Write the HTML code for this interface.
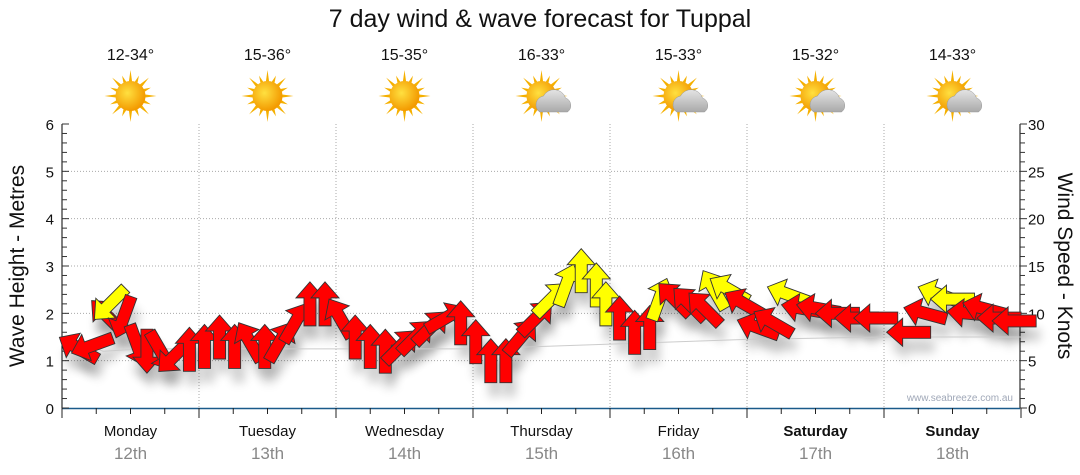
<!DOCTYPE html>
<html><head><meta charset="utf-8"><style>
body{margin:0;background:#fff;font-family:"Liberation Sans",sans-serif}
svg{display:block}
</style></head><body>
<svg id="c" width="1080" height="475" xmlns="http://www.w3.org/2000/svg">
<defs>
<filter id="sh" x="-50%" y="-50%" width="200%" height="200%"><feGaussianBlur stdDeviation="5"/></filter>
<radialGradient id="sun" cx="40%" cy="40%" r="60%"><stop offset="0" stop-color="#ffe040"/><stop offset="1" stop-color="#f39a00"/></radialGradient>
<linearGradient id="cl" x1="0" y1="0" x2="0" y2="1"><stop offset="0" stop-color="#e4e4e4"/><stop offset="1" stop-color="#a9a9a9"/></linearGradient>
</defs>
<text x="540" y="27" font-size="25" text-anchor="middle" fill="#111">7 day wind &amp; wave forecast for Tuppal</text>
<g id="grid"></g><g id="axes"></g><g id="shadows"></g><g id="wave"></g><g id="arrows"></g><g id="icons"></g>
<text x="1013" y="401" font-size="10" text-anchor="end" fill="#a0a8b8">www.seabreeze.com.au</text>
<text transform="translate(24,266) rotate(-90)" font-size="21" text-anchor="middle" fill="#111">Wave Height - Metres</text>
<text transform="translate(1058,266) rotate(90)" font-size="21" text-anchor="middle" fill="#111">Wind Speed - Knots</text>
</svg>
<script>
const days=["Monday","Tuesday","Wednesday","Thursday","Friday","Saturday","Sunday"];
const dates=["12th","13th","14th","15th","16th","17th","18th"];
const temps=["12-34°","15-36°","15-35°","16-33°","15-33°","15-32°","14-33°"];
const cloudy=[0,0,0,1,1,1,1];
const leftTicks=[0,1,2,3,4,5,6];
const rightTicks=[0,5,10,15,20,25,30];
const windT=[0.12,0.22,0.33,0.35,0.45,0.55,0.62,0.72,0.82,0.93,
1.04,1.15,1.26,1.37,1.48,1.59,1.70,1.81,1.92,
2.03,2.14,2.25,2.36,2.47,2.58,2.69,2.80,2.91,
3.02,3.13,3.24,3.35,3.46,3.57,3.68,3.79,3.90,3.97,
4.07,4.18,4.29,4.36,4.47,4.58,4.69,4.76,4.87,4.98,
5.08,5.19,5.30,5.41,5.52,5.66,5.80,5.94,6.18,
6.30,6.40,6.50,6.62,6.73,6.84,6.95];
const windKn=[6.3,6.6,9.7,11.0,9.6,6.6,6.0,6.0,5.5,6.2,
6.5,7.5,6.5,7.0,6.5,7.0,9.0,11.0,11.0,
9.5,7.5,6.5,6.0,6.5,7.5,8.5,9.5,9.0,
7.0,5.0,5.0,7.5,9.5,11.5,13.0,14.5,13.0,11.0,
9.5,8.0,8.5,11.5,11.5,11.0,10.5,12.5,12.5,11.0,
8.5,9.0,12.0,10.5,10.5,10.0,9.5,9.5,8.0,
10.0,12.0,11.5,10.0,10.5,9.5,9.2];
const windDir=[300,250,315,225,200,160,180,150,225,0,
0,0,0,330,0,30,30,0,0,
330,0,0,0,45,45,45,60,0,
0,0,0,40,45,45,20,0,0,0,
0,0,0,20,315,315,315,330,300,300,
290,300,290,280,280,270,270,270,270,
285,290,270,275,285,270,270];
const windY=[0,0,0,1,0,0,0,0,0,0, 0,0,0,0,0,0,0,0,0, 0,0,0,0,0,0,0,0,0,
0,0,0,0,0,1,1,1,1,1, 0,0,0,1,0,0,0,1,1,0, 0,0,1,0,0,0,0,0,0, 0,1,1,0,0,0,0];
const waveT=[0.05,0.3,0.6,1,2,3,4,5,6,7];
const waveM=[1.5,1.2,1.25,1.25,1.25,1.25,1.35,1.45,1.5,1.5];

const NS="http://www.w3.org/2000/svg";
const X0=62,X1=1020,DW=137,Y0=408,Y6=124;
const xT=t=>X0+t*DW;
const yM=m=>Y0-(Y0-Y6)*m/6;
const yK=k=>Y0-(Y0-Y6)*k/30;
function mk(tag,attrs,parent){const e=document.createElementNS(NS,tag);for(const k in attrs)e.setAttribute(k,attrs[k]);parent.appendChild(e);return e;}
const G=id=>document.getElementById(id);
for(let i=1;i<=5;i++){const l=mk('line',{x1:X0,x2:X1,y1:yM(i),y2:yM(i),stroke:'#aaa','stroke-dasharray':'1,2'},G('grid'));

}
for(let d=1;d<7;d++){const l=mk('line',{x1:xT(d),x2:xT(d),y1:Y6,y2:Y0,stroke:'#aaa','stroke-dasharray':'1,2'},G('grid'));

}
const ax=G('axes');
mk('line',{x1:X0,x2:X0,y1:Y6,y2:Y0,stroke:'#000'},ax);
mk('line',{x1:X1,x2:X1,y1:Y6,y2:Y0,stroke:'#000'},ax);
mk('line',{x1:X0,x2:X1,y1:Y0+0.5,y2:Y0+0.5,stroke:'#1a5a8a','stroke-width':1.5},ax);
for(let i=0;i<=30;i++){const y=yM(i/5);
mk('line',{x1:X0,x2:X0+(i%5?5:7),y1:y,y2:y,stroke:'#333'},ax);
mk('line',{x1:X1,x2:X1+(i%5?5:7),y1:y,y2:y,stroke:'#333'},ax);}
leftTicks.forEach(v=>{const t=mk('text',{x:X0-8,y:yM(v)+6,'font-size':15,'text-anchor':'end',fill:'#111'},ax);t.textContent=v;

});
rightTicks.forEach(v=>{const t=mk('text',{x:X1+8,y:yK(v)+6,'font-size':15,fill:'#111'},ax);t.textContent=v;

});
for(let q=0;q<=28;q++){const x=xT(q/4);mk('line',{x1:x,x2:x,y1:Y0,y2:Y0+(q%4?6:10),stroke:'#222'},ax);}
days.forEach((d,i)=>{const cx=xT(i+0.5);
const t=mk('text',{x:cx,y:436,'font-size':15,'text-anchor':'middle',fill:'#111','font-weight':i>=5?'bold':'normal'},ax);t.textContent=d;


const s=mk('text',{x:cx,y:459,'font-size':17,'text-anchor':'middle',fill:'#888'},ax);s.textContent=dates[i];


const tp=mk('text',{x:cx,y:60,'font-size':16,'text-anchor':'middle',fill:'#111'},G('icons'));tp.textContent=temps[i];


const g=mk('g',{transform:`translate(${cx},96)`},G('icons'));


for(let r=0;r<16;r++){const a=r*22.5*Math.PI/180,L=r%2?22:26;
mk('polygon',{points:`${Math.cos(a-0.12)*14},${Math.sin(a-0.12)*14} ${Math.cos(a)*L},${Math.sin(a)*L} ${Math.cos(a+0.12)*14},${Math.sin(a+0.12)*14}`,fill:'#f5b000'},g);}
mk('circle',{r:15,fill:'url(#sun)'},g);
if(cloudy[i]){mk('path',{d:'M-2,16 a9,9 0 0 1 4,-16 a12,12 0 0 1 22,2 a8,8 0 0 1 2,14 z',fill:'url(#cl)',stroke:'#999','stroke-width':0.5},g);}
});
const wp=waveT.map((t,i)=>`${xT(t)},${yM(waveM[i])}`).join(' ');
const wl=mk('polyline',{points:wp,fill:'none',stroke:'#ccc','stroke-width':1},G('wave'));


const shape='M0,-22 L14,-6 L6,-6 L6,22 L-6,22 L-6,-6 L-14,-6 Z';
windT.forEach((t,i)=>{const x=xT(t),y=yK(windKn[i]);
mk('path',{d:shape,transform:`translate(${x+4},${y+14}) rotate(${windDir[i]})`,fill:'#000',opacity:0.2,filter:'url(#sh)'},G('shadows'));
const a=mk('path',{d:shape,transform:`translate(${x},${y}) rotate(${windDir[i]})`,fill:windY[i]?'#ffff00':'#ff0000',stroke:'#333','stroke-width':0.9},G('arrows'));

});
</script>
</body></html>
